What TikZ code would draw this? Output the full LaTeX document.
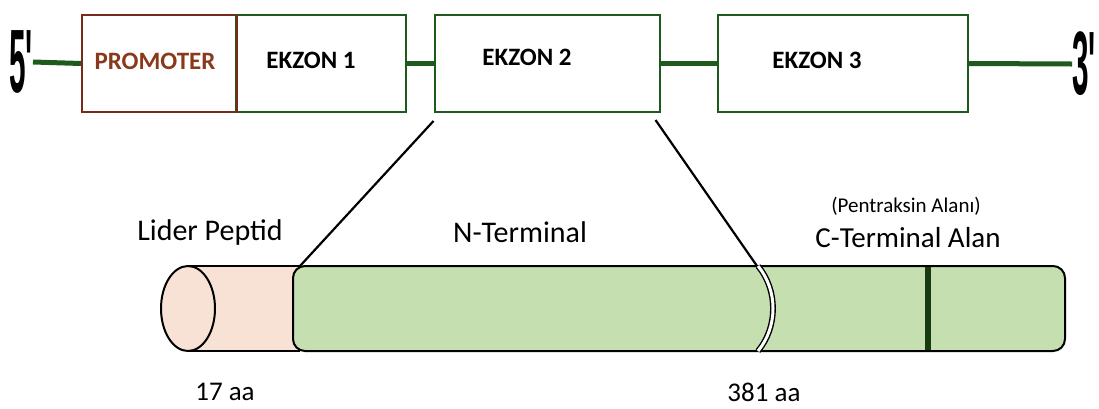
\documentclass[tikz,border=0pt]{standalone}
\usepackage{fontspec}
\setmainfont{Carlito}
\newfontfamily\narrowfont{Liberation Sans}
\usepackage{graphicx}
\definecolor{dnagreen}{HTML}{1E5A1E}
\definecolor{promred}{HTML}{7A2A1A}
\definecolor{promtext}{HTML}{8A3A1C}
\definecolor{peptpink}{HTML}{F8E1D5}
\definecolor{domgreen}{HTML}{C6DFB1}
\definecolor{bargreen}{HTML}{173B10}
\tikzset{
  exonbox/.style={draw=dnagreen, line width=2pt, fill=white, minimum height=97pt, inner sep=0pt},
  exonlabel/.style={font=\fontsize{25}{27}\selectfont\bfseries},
  endlabel/.style={font=\narrowfont\bfseries\fontsize{90}{92}\selectfont, inner sep=0pt},
  partlabel/.style={font=\fontsize{30}{32}\selectfont},
  backbone/.style={dnagreen, line width=5pt},
  cutline/.style={black, line width=2.2pt}
}
\begin{document}
\begin{tikzpicture}[x=1pt, y=-1pt]
  \useasboundingbox (0,0) rectangle (1099,408);
  % gene
  \node[endlabel] (five) at (21,62) {\scalebox{0.33}[1]{5'}};
  \node[endlabel] (three) at (1084,64) {\scalebox{0.33}[1]{3'}};
  \node[exonbox, draw=promred, minimum width=154pt] (prom) at (159,63.5) {};
  \node[exonbox, minimum width=170pt] (ex1) at (321,63.5) {};
  \node[exonbox, minimum width=225pt] (ex2) at (547,63.5) {};
  \node[exonbox, minimum width=250pt] (ex3) at (843,63.5) {};
  \draw[promred, line width=2pt] (prom.north east) -- (prom.south east);
  \draw[backbone] (five.east) -- (prom.west);
  \draw[backbone] (ex1.east) -- (ex2.west);
  \draw[backbone] (ex2.east) -- (ex3.west);
  \draw[backbone] (ex3.east) -- (three.west);
  \node[exonlabel, text=promtext] (promt) at (155,61) {PROMOTER};
  \node[exonlabel] (ex1t) at (311,60) {EKZON 1};
  \node[exonlabel] (ex2t) at (527,57) {EKZON 2};
  \node[exonlabel] (ex3t) at (817,60) {EKZON 3};
  % protein
  \fill[peptpink] (188,266) rectangle (300,351);
  \draw[line width=2pt] (188,266) -- (300,266) (188,351) -- (300,351);
  \draw[line width=2pt, fill=peptpink] (188,308.5) ellipse [x radius=27, y radius=42.5];
  \draw[line width=2pt, fill=domgreen, rounded corners=12pt] (293,266) rectangle (1065,351);
  \fill[bargreen] (925,267) rectangle (931,350);
  \draw[line width=1.4pt, double=white, double distance=3pt]
    (758,266) .. controls (778,290) and (778,327) .. (758,351);
  \coordinate (nstart) at (300,266);
  \coordinate (cstart) at (757,266);
  \draw[cutline] ([yshift=-8pt]ex2.south west) -- (nstart);
  \draw[cutline] ([xshift=-5pt, yshift=-7pt]ex2.south east) -- (cstart);
  \node[partlabel] (lider) at (210,232) {Lider Peptid};
  \node[partlabel] (nterm) at (520,232) {N-Terminal};
  \node[font=\fontsize{21}{23}\selectfont] (pentr) at (906,206) {(Pentraksin Alan\i)};
  \node[partlabel, font=\fontsize{29}{31}\selectfont] (cterm) at (908,238) {C-Terminal Alan};
  \node[partlabel, font=\fontsize{27}{29}\selectfont] (aa17) at (225,392) {17 aa};
  \node[partlabel, font=\fontsize{27}{29}\selectfont] (aa381) at (764,392) {381 aa};
\end{tikzpicture}
\end{document}
